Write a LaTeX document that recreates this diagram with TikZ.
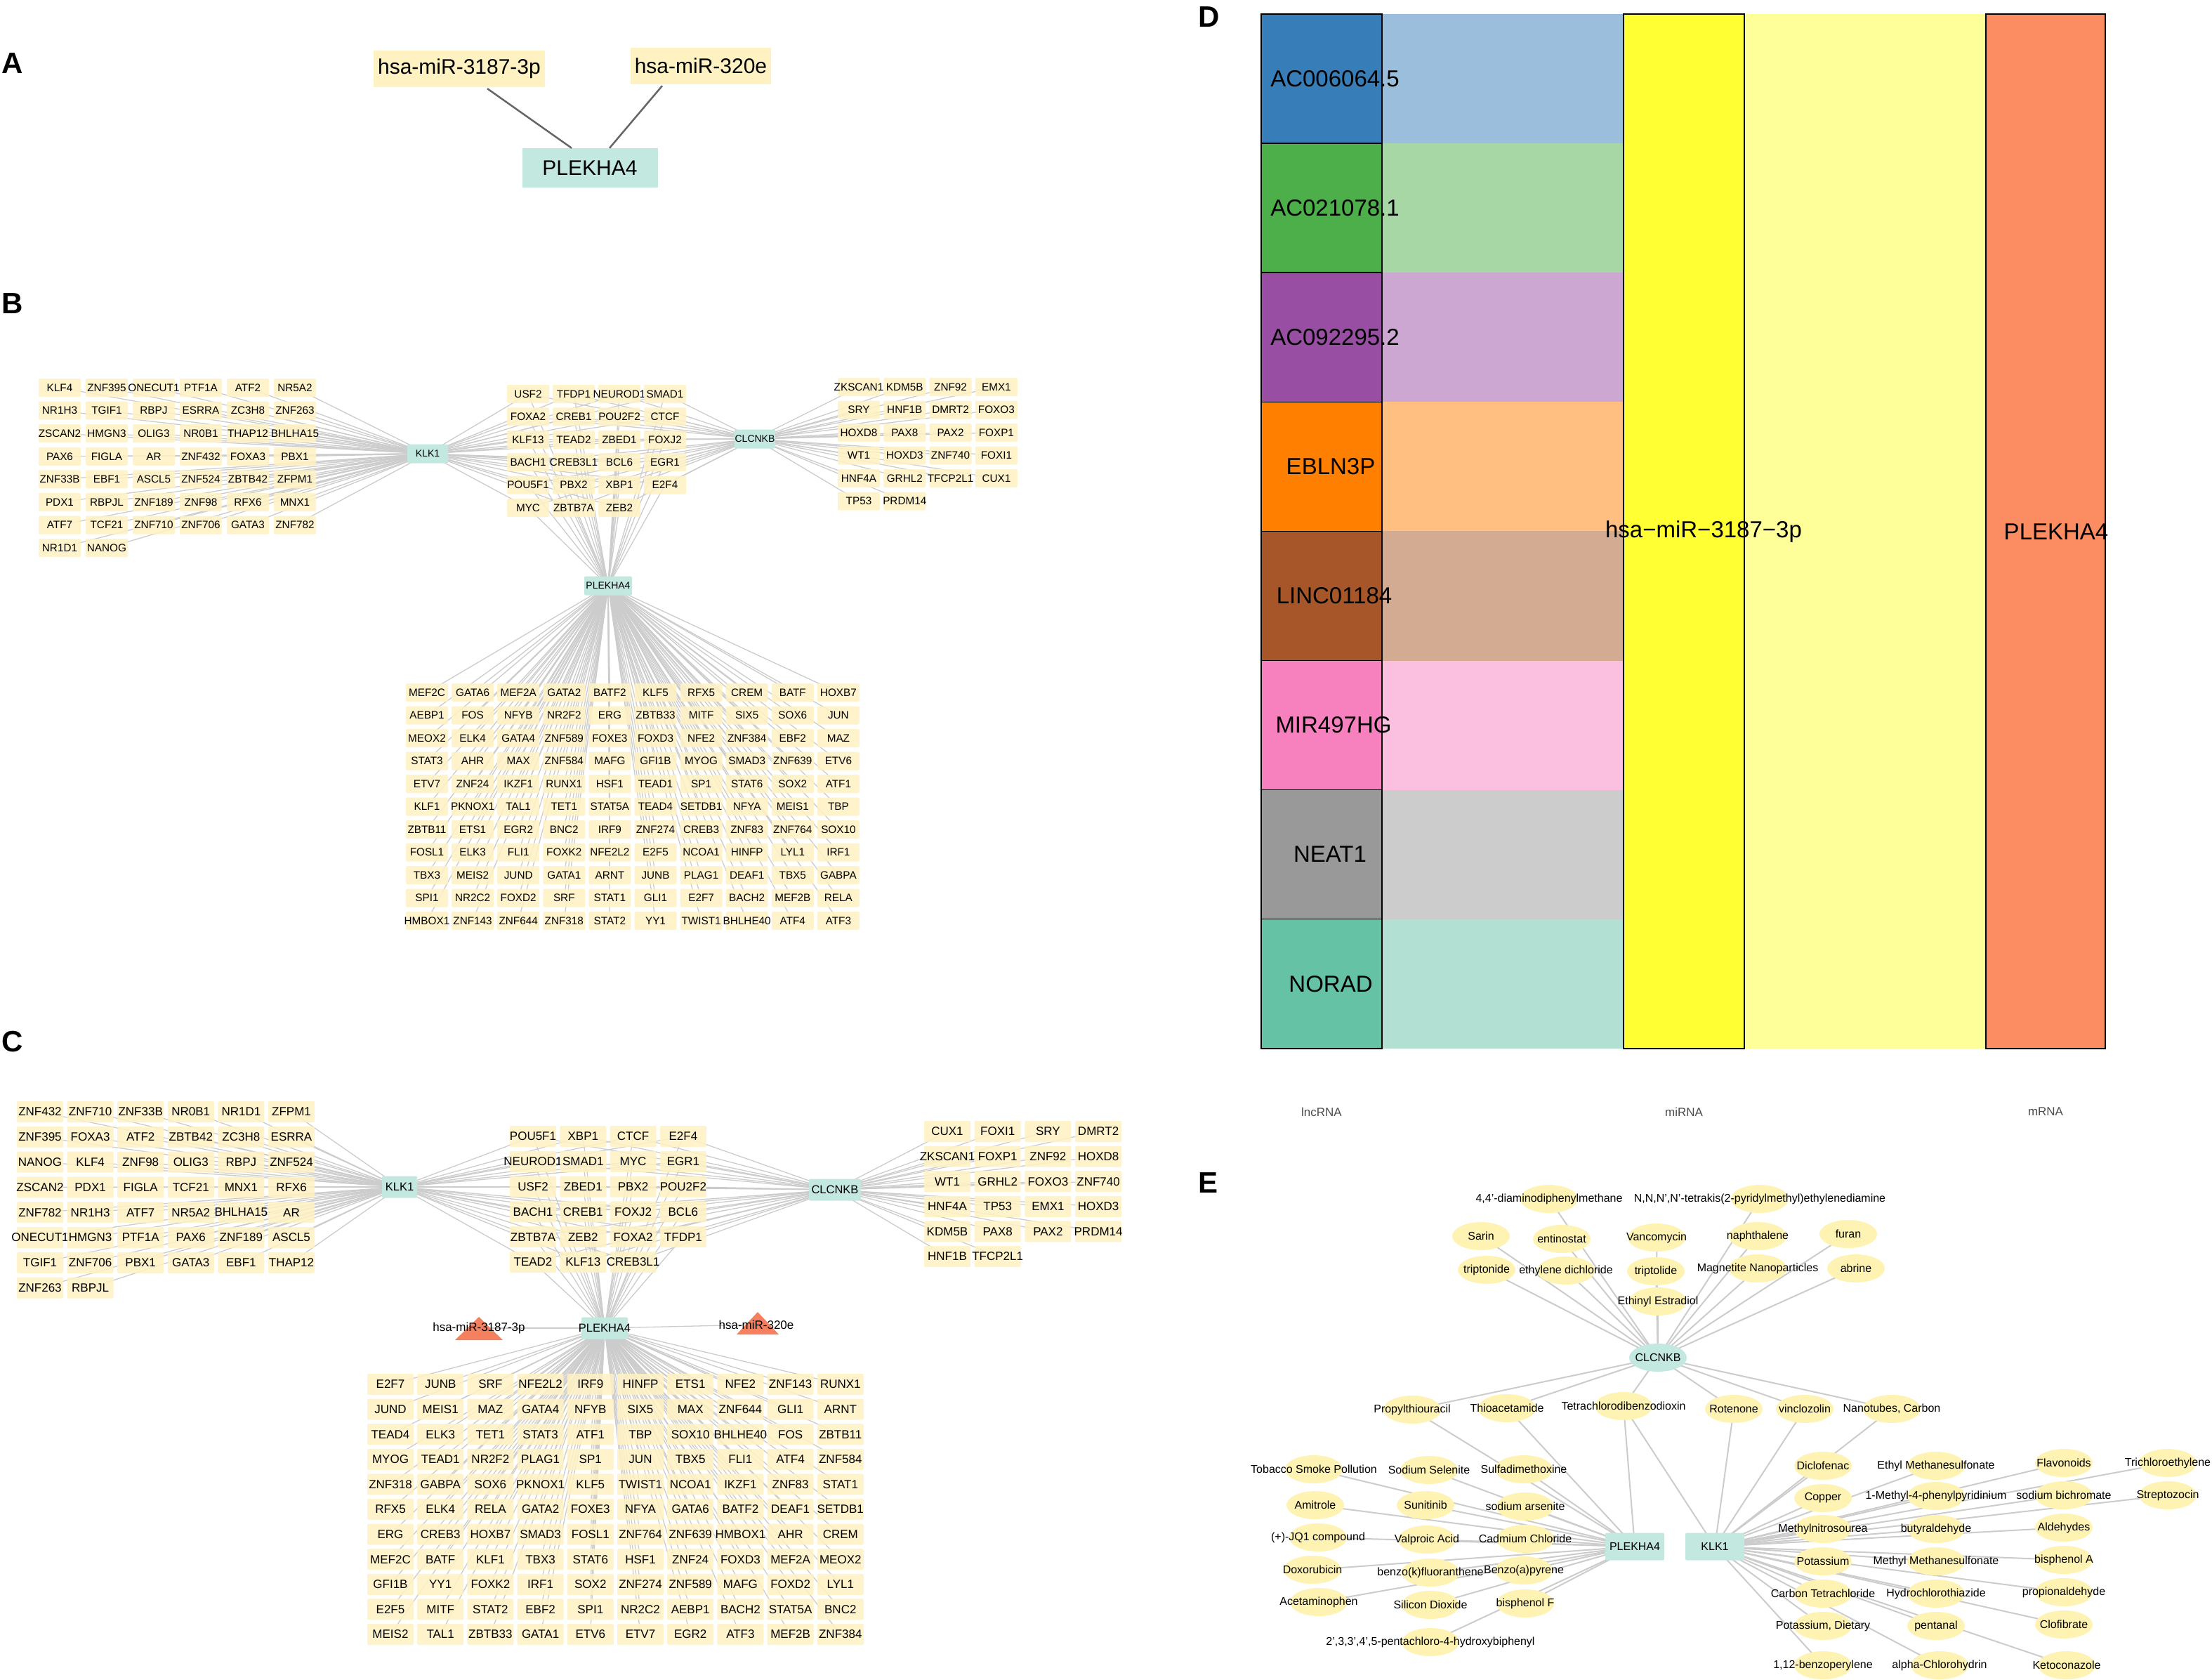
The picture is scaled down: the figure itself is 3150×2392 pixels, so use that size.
\documentclass[tikz,border=0pt]{standalone}
\usepackage{fontspec}
\setmainfont{Liberation Sans}
\usetikzlibrary{shapes.geometric,calc}
\pgfdeclarelayer{back}
\pgfdeclarelayer{edges}
\pgfsetlayers{back,edges,main}
\definecolor{tfyel}{HTML}{FFF2C2}
\definecolor{hubteal}{HTML}{C2E8E0}
\definecolor{chemyel}{HTML}{FFF3B3}
\definecolor{mirred}{HTML}{F4805F}
\definecolor{linkgray}{HTML}{CCCCCC}
\definecolor{sBlue}{HTML}{377EB8}
\definecolor{sGreen}{HTML}{4DAF4A}
\definecolor{sPurple}{HTML}{984EA3}
\definecolor{sOrange}{HTML}{FF7F00}
\definecolor{sBrown}{HTML}{A65628}
\definecolor{sPink}{HTML}{F781BF}
\definecolor{sGray}{HTML}{999999}
\definecolor{sTeal}{HTML}{66C2A5}
\definecolor{sYellow}{HTML}{FFFF33}
\definecolor{sSalmon}{HTML}{FC8D62}
\newcommand\fsz[1]{\fontsize{#1}{#1}\selectfont}
\newcommand\cbox[1]{\makebox[0pt]{#1}}
% danh sách gen (B)
\def\bLeft{{KLF4,ZNF395,ONECUT1,PTF1A,ATF2,NR5A2},{NR1H3,TGIF1,RBPJ,ESRRA,ZC3H8,ZNF263},{ZSCAN2,HMGN3,OLIG3,NR0B1,THAP12,BHLHA15},{PAX6,FIGLA,AR,ZNF432,FOXA3,PBX1},{ZNF33B,EBF1,ASCL5,ZNF524,ZBTB42,ZFPM1},{PDX1,RBPJL,ZNF189,ZNF98,RFX6,MNX1},{ATF7,TCF21,ZNF710,ZNF706,GATA3,ZNF782},{NR1D1,NANOG}}
\def\bMid{{USF2,TFDP1,NEUROD1,SMAD1},{FOXA2,CREB1,POU2F2,CTCF},{KLF13,TEAD2,ZBED1,FOXJ2},{BACH1,CREB3L1,BCL6,EGR1},{POU5F1,PBX2,XBP1,E2F4},{MYC,ZBTB7A,ZEB2}}
\def\bRight{{ZKSCAN1,KDM5B,ZNF92,EMX1},{SRY,HNF1B,DMRT2,FOXO3},{HOXD8,PAX8,PAX2,FOXP1},{WT1,HOXD3,ZNF740,FOXI1},{HNF4A,GRHL2,TFCP2L1,CUX1},{TP53,PRDM14}}
\def\bLow{{MEF2C,GATA6,MEF2A,GATA2,BATF2,KLF5,RFX5,CREM,BATF,HOXB7},{AEBP1,FOS,NFYB,NR2F2,ERG,ZBTB33,MITF,SIX5,SOX6,JUN},{MEOX2,ELK4,GATA4,ZNF589,FOXE3,FOXD3,NFE2,ZNF384,EBF2,MAZ},{STAT3,AHR,MAX,ZNF584,MAFG,GFI1B,MYOG,SMAD3,ZNF639,ETV6},{ETV7,ZNF24,IKZF1,RUNX1,HSF1,TEAD1,SP1,STAT6,SOX2,ATF1},{KLF1,PKNOX1,TAL1,TET1,STAT5A,TEAD4,SETDB1,NFYA,MEIS1,TBP},{ZBTB11,ETS1,EGR2,BNC2,IRF9,ZNF274,CREB3,ZNF83,ZNF764,SOX10},{FOSL1,ELK3,FLI1,FOXK2,NFE2L2,E2F5,NCOA1,HINFP,LYL1,IRF1},{TBX3,MEIS2,JUND,GATA1,ARNT,JUNB,PLAG1,DEAF1,TBX5,GABPA},{SPI1,NR2C2,FOXD2,SRF,STAT1,GLI1,E2F7,BACH2,MEF2B,RELA},{HMBOX1,ZNF143,ZNF644,ZNF318,STAT2,YY1,TWIST1,BHLHE40,ATF4,ATF3}}
% danh sách gen (C)
\def\cLeft{{ZNF432,ZNF710,ZNF33B,NR0B1,NR1D1,ZFPM1},{ZNF395,FOXA3,ATF2,ZBTB42,ZC3H8,ESRRA},{NANOG,KLF4,ZNF98,OLIG3,RBPJ,ZNF524},{ZSCAN2,PDX1,FIGLA,TCF21,MNX1,RFX6},{ZNF782,NR1H3,ATF7,NR5A2,BHLHA15,AR},{ONECUT1,HMGN3,PTF1A,PAX6,ZNF189,ASCL5},{TGIF1,ZNF706,PBX1,GATA3,EBF1,THAP12},{ZNF263,RBPJL}}
\def\cMid{{POU5F1,XBP1,CTCF,E2F4},{NEUROD1,SMAD1,MYC,EGR1},{USF2,ZBED1,PBX2,POU2F2},{BACH1,CREB1,FOXJ2,BCL6},{ZBTB7A,ZEB2,FOXA2,TFDP1},{TEAD2,KLF13,CREB3L1}}
\def\cRight{{CUX1,FOXI1,SRY,DMRT2},{ZKSCAN1,FOXP1,ZNF92,HOXD8},{WT1,GRHL2,FOXO3,ZNF740},{HNF4A,TP53,EMX1,HOXD3},{KDM5B,PAX8,PAX2,PRDM14},{HNF1B,TFCP2L1}}
\def\cLow{{E2F7,JUNB,SRF,NFE2L2,IRF9,HINFP,ETS1,NFE2,ZNF143,RUNX1},{JUND,MEIS1,MAZ,GATA4,NFYB,SIX5,MAX,ZNF644,GLI1,ARNT},{TEAD4,ELK3,TET1,STAT3,ATF1,TBP,SOX10,BHLHE40,FOS,ZBTB11},{MYOG,TEAD1,NR2F2,PLAG1,SP1,JUN,TBX5,FLI1,ATF4,ZNF584},{ZNF318,GABPA,SOX6,PKNOX1,KLF5,TWIST1,NCOA1,IKZF1,ZNF83,STAT1},{RFX5,ELK4,RELA,GATA2,FOXE3,NFYA,GATA6,BATF2,DEAF1,SETDB1},{ERG,CREB3,HOXB7,SMAD3,FOSL1,ZNF764,ZNF639,HMBOX1,AHR,CREM},{MEF2C,BATF,KLF1,TBX3,STAT6,HSF1,ZNF24,FOXD3,MEF2A,MEOX2},{GFI1B,YY1,FOXK2,IRF1,SOX2,ZNF274,ZNF589,MAFG,FOXD2,LYL1},{E2F5,MITF,STAT2,EBF2,SPI1,NR2C2,AEBP1,BACH2,STAT5A,BNC2},{MEIS2,TAL1,ZBTB33,GATA1,ETV6,ETV7,EGR2,ATF3,MEF2B,ZNF384}}
% hóa chất (E)
\def\eTop{eDia/2206/1707/{4,4'-diaminodiphenylmethane},eTpen/2506/1707/{N,N,N',N'-tetrakis(2-pyridylmethyl)ethylenediamine},eSar/2109/1760/Sarin,eEnt/2224/1764/entinostat,eVan/2359/1762/Vancomycin,eNap/2503/1760/naphthalene,eFur/2632/1757/furan,eTpn/2117/1808/triptonide,eEdc/2230/1809/ethylene dichloride,eTpl/2358/1810/triptolide,eMag/2503/1806/Magnetite Nanoparticles,eAbr/2643/1806/abrine,eEth/2361/1853/Ethinyl Estradiol,ePtu/2011/2007/Propylthiouracil,eTaa/2146/2005/Thioacetamide,eTcd/2312/2002/Tetrachlorodibenzodioxin,eRot/2469/2006/Rotenone,eVin/2570/2006/vinclozolin,eNan/2694/2006/{Nanotubes, Carbon}}
\def\eLeft{eTob/1871/2092/Tobacco Smoke Pollution,eSel/2035/2093/Sodium Selenite,eSul/2170/2092/Sulfadimethoxine,eAmi/1873/2143/Amitrole,eSun/2030/2143/Sunitinib,eArs/2172/2145/sodium arsenite,eJq/1877/2189/{(+)-JQ1 compound},eVpa/2032/2192/Valproic Acid,eCad/2172/2191/Cadmium Chloride,eDox/1869/2235/Doxorubicin,eBkf/2037/2239/benzo(k)fluoranthene,eBap/2170/2236/Benzo(a)pyrene,eAce/1878/2281/Acetaminophen,eSio/2037/2285/Silicon Dioxide,eBpf/2172/2283/bisphenol F,ePcb/2037/2338/{2',3,3',4',5-pentachloro-4-hydroxybiphenyl}}
\def\eRight{eDic/2596/2087/Diclofenac,eEms/2757/2087/Ethyl Methanesulfonate,eFla/2939/2083/Flavonoids,eTce/3087/2083/Trichloroethylene,eCop/2596/2133/Copper,eMpp/2757/2130/1-Methyl-4-phenylpyridinium,eBic/2939/2129/sodium bichromate,eStz/3087/2129/Streptozocin,eMnu/2596/2177/Methylnitrosourea,eBut/2757/2177/butyraldehyde,eAld/2939/2175/Aldehydes,eKal/2596/2223/Potassium,eMms/2757/2223/Methyl Methanesulfonate,eBpa/2939/2221/bisphenol A,eCcl/2596/2269/Carbon Tetrachloride,eHct/2757/2269/Hydrochlorothiazide,ePro/2939/2267/propionaldehyde,eKdi/2596/2315/{Potassium, Dietary},ePen/2757/2315/pentanal,eClo/2939/2313/Clofibrate,eBzp/2596/2371/{1,12-benzoperylene},eMcp/2762/2371/alpha-Chlorohydrin,eKet/2943/2371/Ketoconazole}
\begin{document}
\begin{tikzpicture}[x=1pt,y=-1pt,
    panel/.style={font=\fsz{42}\bfseries,anchor=west,inner sep=0},
    gene/.style={rectangle,rounded corners=2,fill=tfyel,fill opacity=.85,text opacity=1,minimum width=60,minimum height=26,inner sep=0,font=\fsz{15.3}},
    geneC/.style={gene,minimum width=66,minimum height=30,font=\fsz{17}},
    hub/.style={rectangle,rounded corners=2,fill=hubteal,minimum width=58,minimum height=27,inner xsep=5,inner ysep=0,font=\fsz{14}},
    hubC/.style={hub,minimum width=50,minimum height=31,font=\fsz{16.5}},
    link/.style={linkgray,line width=1.3},
    mirA/.style={rectangle,fill=tfyel,minimum height=52,inner xsep=6,font=\fsz{30}},
    alink/.style={black!60,line width=2.5},
    dtext/.style={font=\fsz{33},inner sep=0},
    axl/.style={font=\fsz{17},text=black!70,inner sep=0},
    chem/.style={ellipse,fill=chemyel,minimum width=82,minimum height=40,inner sep=0,font=\fsz{16}},
    elink/.style={linkgray,line width=2}]
\begin{pgfonlayer}{back}
  \fill[white] (0,0) rectangle (3150,2392);
\end{pgfonlayer}
\useasboundingbox (0,0) rectangle (3150,2392);
% nhãn các panel
\node[panel] (lA) at (2,90) {A};
\node[panel] (lB) at (2,432) {B};
\node[panel] (lC) at (2,1483) {C};
\node[panel] (lD) at (1706,24) {D};
\node[panel] (lE) at (1706,1684) {E};
% ----- A -----
\node[mirA] (aM1) at (654,98) {hsa-miR-3187-3p};
\node[mirA] (aM2) at (998,94) {hsa-miR-320e};
\node[mirA,fill=hubteal,minimum width=193,minimum height=56] (aP) at (840,239) {PLEKHA4};
\draw[alink] ($(aM1.south)+(40,2)$) -- ($(aP.north)+(-26,0)$);
\draw[alink] ($(aM2.south)+(-55,2)$) -- ($(aP.north)+(28,0)$);
% ----- B -----
\node[hub] (bKLK1) at (609,646) {\cbox{KLK1}};
\node[hub] (bCLCNKB) at (1075,625) {\cbox{CLCNKB}};
\node[hub,minimum width=68] (bPLEKHA4) at (866,834) {\cbox{PLEKHA4}};
\foreach \row [count=\r from 0] in \bLeft {\foreach \g [count=\c from 0] in \row {\node[gene] (b\g) at (85+67*\c,552+32.6*\r) {\cbox{\g}};}}
\foreach \row [count=\r from 0] in \bMid {\foreach \g [count=\c from 0] in \row {\node[gene] (b\g) at (752+65*\c,561+32.4*\r) {\cbox{\g}};}}
\foreach \row [count=\r from 0] in \bRight {\foreach \g [count=\c from 0] in \row {\node[gene] (b\g) at (1223+65.3*\c,551+32.5*\r) {\cbox{\g}};}}
\foreach \row [count=\r from 0] in \bLow {\foreach \g [count=\c from 0] in \row {\node[gene] (b\g) at (608+65.1*\c,986+32.5*\r) {\cbox{\g}};}}
\begin{pgfonlayer}{edges}
  \foreach \row in \bLeft {\foreach \g in \row {\draw[link] (bKLK1.center) -- (b\g.center);}}
  \foreach \row in \bMid {\foreach \g in \row {
    \draw[link] (bKLK1.center) -- (b\g.center);
    \draw[link] (bCLCNKB.center) -- (b\g.center);
    \draw[link] (bPLEKHA4.center) -- (b\g.center);}}
  \foreach \row in \bRight {\foreach \g in \row {\draw[link] (bCLCNKB.center) -- (b\g.center);}}
  \foreach \row in \bLow {\foreach \g in \row {\draw[link] (bPLEKHA4.center) -- (b\g.center);}}
\end{pgfonlayer}
% ----- C -----
\node[hubC] (cKLK1) at (569,1690) {\cbox{KLK1}};
\node[hubC,minimum width=74] (cCLCNKB) at (1189,1694) {\cbox{CLCNKB}};
\node[hubC,minimum width=66] (cPLEKHA4) at (861,1891) {\cbox{PLEKHA4}};
\fill[mirred] (682,1875) -- (716,1908) -- (648,1908) -- cycle;
\node[font=\fsz{17},inner sep=0] (cMir1) at (682,1891) {hsa-miR-3187-3p};
\fill[mirred] (1079,1868) -- (1109,1900) -- (1049,1900) -- cycle;
\node[font=\fsz{17},inner sep=0] (cMir2) at (1077,1886) {hsa-miR-320e};
\foreach \row [count=\r from 0] in \cLeft {\foreach \g [count=\c from 0] in \row {\node[geneC] (c\g) at (57+71.6*\c,1583+35.8*\r) {\cbox{\g}};}}
\foreach \row [count=\r from 0] in \cMid {\foreach \g [count=\c from 0] in \row {\node[geneC] (c\g) at (759+71.3*\c,1618+35.8*\r) {\cbox{\g}};}}
\foreach \row [count=\r from 0] in \cRight {\foreach \g [count=\c from 0] in \row {\node[geneC] (c\g) at (1349+71.7*\c,1611+35.6*\r) {\cbox{\g}};}}
\foreach \row [count=\r from 0] in \cLow {\foreach \g [count=\c from 0] in \row {\node[geneC] (c\g) at (556+71.2*\c,1971+35.6*\r) {\cbox{\g}};}}
\begin{pgfonlayer}{edges}
  \draw[link] (cMir1.center) -- (cPLEKHA4.center);
  \draw[link] (cMir2.center) -- (cPLEKHA4.center);
  \foreach \row in \cLeft {\foreach \g in \row {\draw[link] (cKLK1.center) -- (c\g.center);}}
  \foreach \row in \cMid {\foreach \g in \row {
    \draw[link] (cKLK1.center) -- (c\g.center);
    \draw[link] (cCLCNKB.center) -- (c\g.center);
    \draw[link] (cPLEKHA4.center) -- (c\g.center);}}
  \foreach \row in \cRight {\foreach \g in \row {\draw[link] (cCLCNKB.center) -- (c\g.center);}}
  \foreach \row in \cLow {\foreach \g in \row {\draw[link] (cPLEKHA4.center) -- (c\g.center);}}
\end{pgfonlayer}
% ----- D -----
\foreach \nm/\cl/\tx [count=\i from 0] in {AC006064.5/sBlue/1901,AC021078.1/sGreen/1901,AC092295.2/sPurple/1901,EBLN3P/sOrange/1895,LINC01184/sBrown/1900,MIR497HG/sPink/1899,NEAT1/sGray/1894,NORAD/sTeal/1895}{
  \fill[\cl!50] (1968,20+184.1*\i) rectangle (2312,204.1+184.1*\i);
  \draw[line width=1.5,fill=\cl] (1796,20+184.1*\i) rectangle (1968,204.1+184.1*\i);
  \node[dtext] (dl\i) at (\tx,112+184.1*\i) {\nm};
}
\fill[sYellow!50] (2484,20) rectangle (2828,1493);
\draw[line width=1.5,fill=sYellow] (2312,20) rectangle (2484,1493);
\node[dtext] (dmir) at (2426,757) {hsa−miR−3187−3p};
\draw[line width=1.5,fill=sSalmon] (2828,20) rectangle (2998,1493);
\node[dtext] (dgene) at (2928,757) {PLEKHA4};
\node[axl] (dx1) at (1882,1583) {lncRNA};
\node[axl] (dx2) at (2398,1583) {miRNA};
\node[axl] (dx3) at (2913,1583) {mRNA};
% ----- E -----
\node[chem,fill=hubteal] (eCL) at (2361,1933) {\cbox{CLCNKB}};
\node[hub,minimum width=84,minimum height=39,font=\fsz{16}] (ePL) at (2328,2202) {\cbox{PLEKHA4}};
\node[hub,minimum width=84,minimum height=39,font=\fsz{16}] (eKL) at (2442,2202) {\cbox{KLK1}};
\foreach \nm/\x/\y/\lab in \eTop {\node[chem] (\nm) at (\x,\y) {\cbox{\lab}};}
\foreach \nm/\x/\y/\lab in \eLeft {\node[chem] (\nm) at (\x,\y) {\cbox{\lab}};}
\foreach \nm/\x/\y/\lab in \eRight {\node[chem] (\nm) at (\x,\y) {\cbox{\lab}};}
\begin{pgfonlayer}{edges}
  \foreach \nm/\x/\y/\lab in \eTop {\draw[elink] (eCL.center) -- (\nm.center);}
  \foreach \nm/\x/\y/\lab in \eLeft {\draw[elink] (ePL.center) -- (\nm.center);}
  \foreach \nm/\x/\y/\lab in \eRight {\draw[elink] (eKL.center) -- (\nm.center);}
  \foreach \a in {ePtu,eTaa,eTcd}{\draw[elink] (ePL.center) -- (\a.center);}
  \foreach \a in {eTcd,eRot,eVin,eNan}{\draw[elink] (eKL.center) -- (\a.center);}
\end{pgfonlayer}
\end{tikzpicture}
\end{document}
